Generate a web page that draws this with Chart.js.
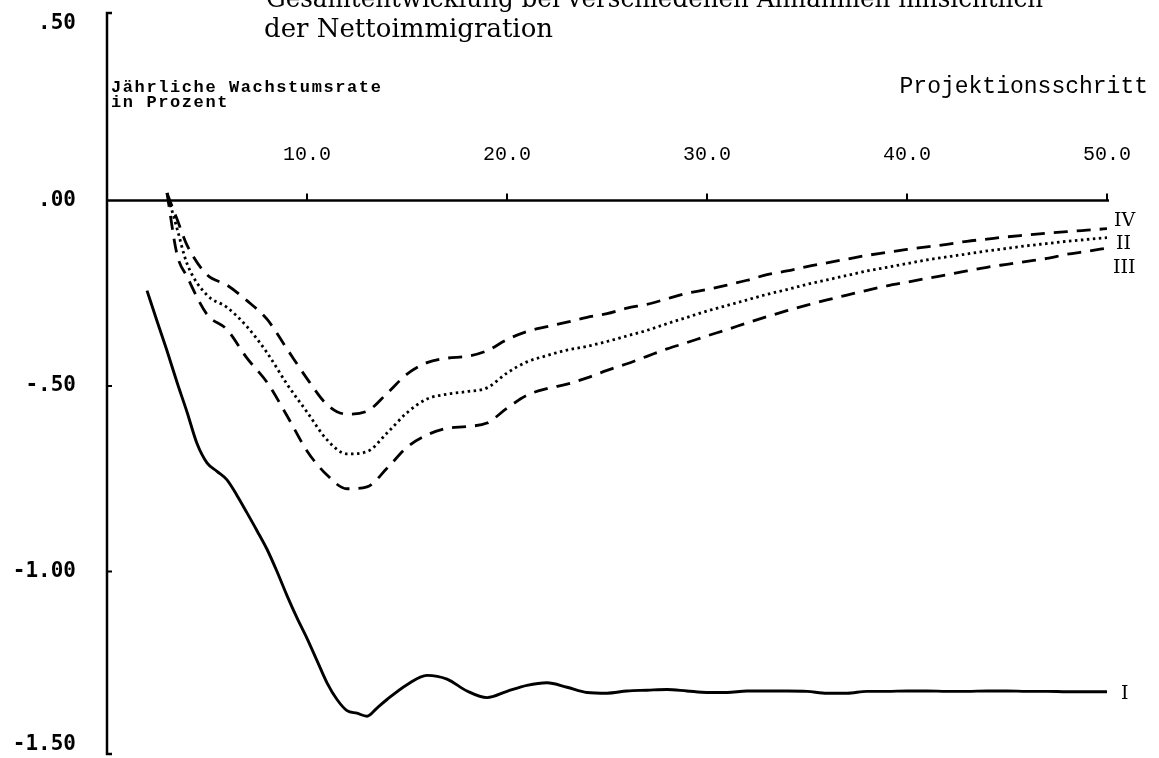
<!DOCTYPE html>
<html>
<head>
<meta charset="utf-8">
<script src="https://cdn.jsdelivr.net/npm/chart.js@4.4.1/dist/chart.umd.min.js"></script>
<style>
  body { margin: 0; background: #fff; }
</style>
</head>
<body>
<canvas id="grafico" width="1159" height="758"></canvas>
<script>
// Projektionsschritte fuer die gestrichelten Varianten
var xVarianten = [3, 3.5, 4, 5, 6, 7, 8, 9, 10, 11, 12, 13, 14, 15, 16, 17, 18, 19, 20,
    21, 22, 23, 24, 25, 26, 27, 28, 29, 30, 31, 32, 33, 34, 35, 36, 37, 38, 39, 40,
    41, 42, 43, 44, 45, 46, 47, 48, 49, 50];

var variante4 = [0.02, -0.05, -0.12, -0.2, -0.228, -0.27, -0.32, -0.40, -0.48, -0.55, -0.576, -0.568, -0.52, -0.468, -0.437, -0.425, -0.42, -0.405, -0.375,
    -0.353, -0.34, -0.328, -0.315, -0.305, -0.29, -0.28, -0.265, -0.25, -0.24, -0.228, -0.215, -0.2, -0.19, -0.178, -0.168, -0.158, -0.148, -0.14, -0.132,
    -0.125, -0.118, -0.11, -0.104, -0.098, -0.093, -0.088, -0.084, -0.08, -0.076];

var variante2 = [0.02, -0.075, -0.17, -0.255, -0.288, -0.34, -0.41, -0.495, -0.57, -0.645, -0.683, -0.677, -0.627, -0.572, -0.535, -0.522, -0.515, -0.505, -0.465,
    -0.435, -0.418, -0.403, -0.393, -0.38, -0.365, -0.35, -0.332, -0.315, -0.298, -0.283, -0.268, -0.253, -0.24, -0.226, -0.214, -0.202, -0.19, -0.18, -0.17,
    -0.16, -0.152, -0.144, -0.136, -0.129, -0.122, -0.116, -0.11, -0.105, -0.1];

var variante3 = [0.02, -0.145, -0.205, -0.307, -0.348, -0.425, -0.49, -0.58, -0.675, -0.74, -0.777, -0.772, -0.722, -0.665, -0.632, -0.614, -0.609, -0.6, -0.56,
    -0.525, -0.507, -0.495, -0.478, -0.458, -0.44, -0.42, -0.4, -0.383, -0.365, -0.348, -0.33, -0.313, -0.297, -0.282, -0.268, -0.255, -0.242, -0.23, -0.22,
    -0.21, -0.2, -0.19, -0.18, -0.172, -0.164, -0.156, -0.145, -0.137, -0.128];

// Variante I (durchgezogen)
var xVariante1 = [2, 2.5, 3, 3.5, 4, 4.5, 5, 5.5, 6, 6.5, 7, 7.5, 8, 8.5, 9, 9.5, 10, 10.5, 11, 11.5, 12, 12.5, 13, 13.5, 14,
    15, 16, 17, 18, 19, 20, 21, 22, 23, 24, 25, 26, 27, 28, 29, 30, 31, 32, 33, 34, 35, 36, 37, 38, 39, 40,
    41, 42, 43, 44, 45, 46, 47, 48, 49, 50];

var variante1 = [-0.243, -0.325, -0.405, -0.49, -0.57, -0.655, -0.707, -0.73, -0.753, -0.795, -0.842, -0.89, -0.94, -1.0, -1.065, -1.125, -1.18, -1.24, -1.30, -1.345, -1.375, -1.382, -1.39, -1.368, -1.345,
    -1.305, -1.28, -1.29, -1.322, -1.34, -1.323, -1.307, -1.30, -1.312, -1.326, -1.328, -1.322, -1.32, -1.318, -1.322, -1.326, -1.326, -1.322, -1.322, -1.322, -1.323, -1.328, -1.328, -1.323, -1.323, -1.322,
    -1.322, -1.323, -1.323, -1.322, -1.322, -1.323, -1.323, -1.324, -1.324, -1.324];

var xTicks = [10, 20, 30, 40, 50];
var xTickLabels = ["10.0", "20.0", "30.0", "40.0", "50.0"];
var yTicks = [0.5, 0, -0.5, -1, -1.5];
var yTickLabels = [".50", ".00", "-.50", "-1.00", "-1.50"];

function paare(xs, ys) {
    var out = [];
    for (var i = 0; i < xs.length; i++) {
        out.push({ x: xs[i], y: ys[i] });
    }
    return out;
}

// achsen, beschriftung und titel werden hier gezeichnet
var achsen = {
    id: "achsen",
    afterDraw: function (chart) {
        var ctx = chart.ctx;
        var sx = chart.scales.x;
        var sy = chart.scales.y;
        var x0 = sx.getPixelForValue(0);
        var y0 = sy.getPixelForValue(0);
        var yTop = sy.getPixelForValue(0.5);
        var yBot = sy.getPixelForValue(-1.5);

        ctx.save();
        ctx.strokeStyle = "#000";
        ctx.fillStyle = "#000";
        ctx.lineWidth = 2.5;

        // y-achse mit haken oben und unten
        ctx.beginPath();
        ctx.moveTo(x0 + 5, yTop - 2);
        ctx.lineTo(x0, yTop - 2);
        ctx.lineTo(x0, yBot - 3);
        ctx.lineTo(x0 + 5, yBot - 3);
        ctx.stroke();

        // x-achse
        ctx.beginPath();
        ctx.moveTo(x0, y0);
        ctx.lineTo(sx.getPixelForValue(50) + 2, y0);
        ctx.stroke();

        ctx.lineWidth = 2;
        xTicks.forEach(function (t) {
            var px = sx.getPixelForValue(t);
            ctx.beginPath();
            ctx.moveTo(px, y0);
            ctx.lineTo(px, y0 - 7);
            ctx.stroke();
        });
        [-0.5, -1].forEach(function (t) {
            var py = sy.getPixelForValue(t);
            ctx.beginPath();
            ctx.moveTo(x0, py);
            ctx.lineTo(x0 + 5, py);
            ctx.stroke();
        });

        // x beschriftung ueber der achse
        ctx.font = "20px 'Liberation Mono'";
        ctx.textAlign = "center";
        ctx.textBaseline = "alphabetic";
        xTicks.forEach(function (t, i) {
            ctx.fillText(xTickLabels[i], sx.getPixelForValue(t), y0 - 41);
        });

        // y beschriftung links
        ctx.font = "bold 21px 'DejaVu Sans Mono'";
        ctx.textAlign = "right";
        ctx.textBaseline = "middle";
        yTicks.forEach(function (t, i) {
            var py = sy.getPixelForValue(t);
            py = Math.min(Math.max(py, 24), 745);
            ctx.fillText(yTickLabels[i], x0 - 31, py);
        });

        // achsentitel
        ctx.textBaseline = "alphabetic";
        ctx.textAlign = "left";
        ctx.font = "bold 17px 'Liberation Mono'";
        ctx.letterSpacing = "1.6px";
        ctx.fillText("Jährliche Wachstumsrate", x0 + 4, 92);
        ctx.fillText("in Prozent", x0 + 4, 107);
        ctx.letterSpacing = "0px";
        ctx.font = "23px 'Liberation Mono'";
        ctx.textAlign = "right";
        ctx.fillText("Projektionsschritt", 1148, 93);

        // titel (oben abgeschnitten)
        ctx.textAlign = "left";
        ctx.font = "26px 'DejaVu Serif'";
        ctx.fillText("Gesamtentwicklung bei verschiedenen Annahmen hinsichtlich", 266, 7, 777);
        ctx.fillText("der Nettoimmigration", 264, 37);

        // kurvenbezeichnung
        ctx.font = "19px 'DejaVu Serif'";
        var xe = sx.getPixelForValue(50) + 4;
        ctx.fillText("IV", xe + 3, sy.getPixelForValue(variante4[variante4.length - 1]) - 3);
        ctx.fillText("II", xe + 5, sy.getPixelForValue(variante2[variante2.length - 1]) + 11);
        ctx.fillText("III", xe + 2, sy.getPixelForValue(variante3[variante3.length - 1]) + 25);
        ctx.fillText("I", xe + 10, sy.getPixelForValue(variante1[variante1.length - 1]) + 7);
        ctx.restore();
    }
};

new Chart("grafico", {
    type: "line",
    data: {
        datasets: [{
            label: "IV",
            data: paare(xVarianten, variante4),
            borderColor: "#000",
            borderWidth: 2.8,
            borderDash: [14, 9]
        }, {
            label: "II",
            data: paare(xVarianten, variante2),
            borderColor: "#000",
            borderWidth: 2.8,
            borderDash: [2.5, 3.5]
        }, {
            label: "III",
            data: paare(xVarianten, variante3),
            borderColor: "#000",
            borderWidth: 2.8,
            borderDash: [14, 9]
        }, {
            label: "I",
            data: paare(xVariante1, variante1),
            borderColor: "#000",
            borderWidth: 2.9
        }]
    },
    options: {
        responsive: false,
        animation: false,
        cubicInterpolationMode: "monotone",
        pointRadius: 0,
        layout: { padding: { left: 107, right: 52, top: 15, bottom: 1 } },
        plugins: {
            legend: { display: false },
            tooltip: { enabled: false }
        },
        scales: {
            x: { type: "linear", min: 0, max: 50, display: false },
            y: { type: "linear", min: -1.5, max: 0.5, display: false }
        }
    },
    plugins: [achsen]
});
</script>
</body>
</html>
